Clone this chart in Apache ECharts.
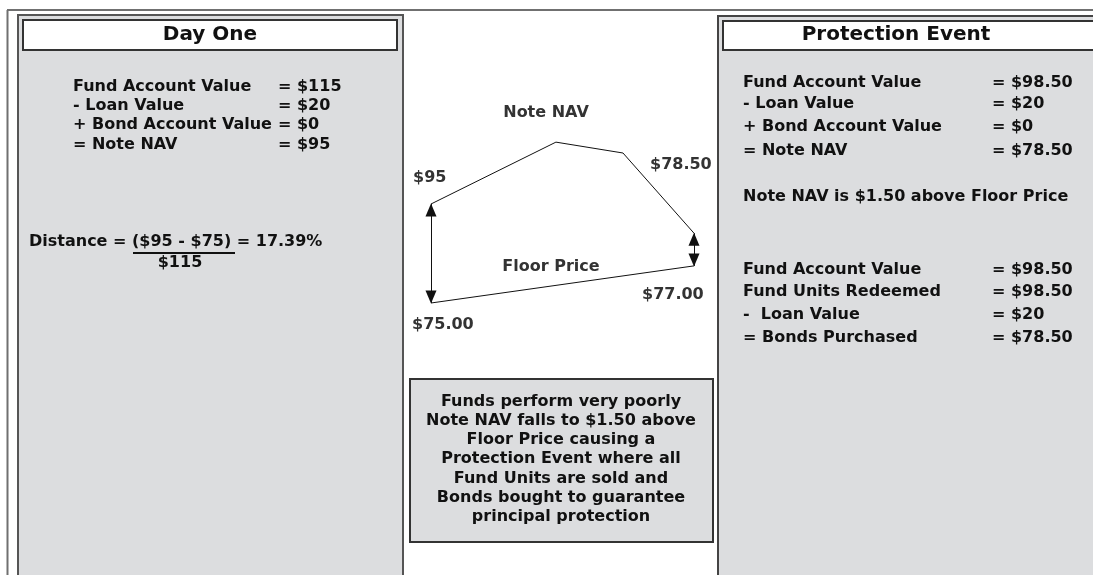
<!DOCTYPE html>
<html>
<head>
<meta charset="utf-8">
<script src="https://cdn.jsdelivr.net/npm/echarts@6/dist/echarts.min.js"></script>
<style>
  html, body { margin: 0; padding: 0; background: #fff; }
  #main { width: 1093px; height: 575px; }
</style>
</head>
<body>
<div id="main"></div>
<script>
// schematic diagram data (not drawn to scale in the source)
const navTimes = [0, 4.75, 7.3, 10]
const navLevels = [95, 107.5, 105.3, 89.1]
const floorTimes = [0, 10]
const floorLevels = [75, 82.5]

const dayOneRows = [
  ['Fund Account Value', '= $115'],
  ['- Loan Value', '= $20'],
  ['+ Bond Account Value', '= $0'],
  ['= Note NAV', '= $95']
]
const eventRows = [
  ['Fund Account Value', '= $98.50'],
  ['- Loan Value', '= $20'],
  ['+ Bond Account Value', '= $0'],
  ['= Note NAV', '= $78.50']
]
const redeemRows = [
  ['Fund Account Value', '= $98.50'],
  ['Fund Units Redeemed', '= $98.50'],
  ['-  Loan Value', '= $20'],
  ['= Bonds Purchased', '= $78.50']
]
const noteLines = [
  'Funds perform very poorly',
  'Note NAV falls to $1.50 above',
  'Floor Price causing a',
  'Protection Event where all',
  'Fund Units are sold and',
  'Bonds bought to guarantee',
  'principal protection'
]

const FONT = '"DejaVu Sans", Verdana, sans-serif'
const PANEL = '#dcdddf'

function txt(x, y, s, opt) {
  opt = opt || {}
  return {
    type: 'text', x: x, y: y, z: 10,
    style: {
      text: s,
      fontFamily: FONT,
      fontWeight: 'bold',
      fontSize: opt.size || 16,
      fill: opt.color || '#111',
      textAlign: opt.align || 'left',
      textVerticalAlign: 'middle'
    }
  }
}

function rows(list, x1, x2, ys) {
  const out = []
  list.forEach((r, i) => {
    out.push(txt(x1, ys[i], r[0]))
    out.push(txt(x2, ys[i], r[1]))
  })
  return out
}

const graphics = [
  // outer frame
  { type: 'line', shape: { x1: 7, y1: 10, x2: 1093, y2: 10 }, style: { stroke: '#707070', lineWidth: 2 } },
  { type: 'line', shape: { x1: 7.5, y1: 10, x2: 7.5, y2: 575 }, style: { stroke: '#707070', lineWidth: 2 } },
  // left panel
  { type: 'rect', shape: { x: 18, y: 15, width: 385, height: 570 }, style: { fill: PANEL, stroke: '#555', lineWidth: 2 } },
  { type: 'rect', shape: { x: 23, y: 20, width: 374, height: 30 }, style: { fill: '#fff', stroke: '#333', lineWidth: 2 } },
  txt(210, 35, 'Day One', { size: 20, align: 'center' }),
  // right panel
  { type: 'rect', shape: { x: 718, y: 16, width: 400, height: 570 }, style: { fill: PANEL, stroke: '#444', lineWidth: 2 } },
  { type: 'rect', shape: { x: 723, y: 21, width: 400, height: 29 }, style: { fill: '#fff', stroke: '#333', lineWidth: 2 } },
  txt(896, 35, 'Protection Event', { size: 20, align: 'center' }),
  // middle note box
  { type: 'rect', shape: { x: 410, y: 379, width: 303, height: 163 }, style: { fill: PANEL, stroke: '#333', lineWidth: 2 } },
  // distance formula underline
  { type: 'line', shape: { x1: 133, y1: 253, x2: 235, y2: 253 }, style: { stroke: '#111', lineWidth: 2 } }
]
  .concat(rows(dayOneRows, 73, 278, [87, 106, 125, 145]))
  .concat([
    txt(29, 242, 'Distance = ($95 - $75) = 17.39%'),
    txt(180, 263, '$115', { align: 'center' })
  ])
  .concat(rows(eventRows, 743, 992, [83, 104, 127, 151]))
  .concat([txt(743, 197, 'Note NAV is $1.50 above Floor Price')])
  .concat(rows(redeemRows, 743, 992, [270, 292, 315, 338]))
  .concat(noteLines.map((s, i) => txt(561, 402 + i * 19.1, s, { align: 'center' })))
  .concat([
    txt(546, 113, 'Note NAV', { color: '#333', align: 'center' }),
    txt(413, 178, '$95', { color: '#333' }),
    txt(650, 165, '$78.50', { color: '#333' }),
    txt(551, 267, 'Floor Price', { color: '#333', align: 'center' }),
    txt(642, 295, '$77.00', { color: '#333' }),
    txt(412, 325, '$75.00', { color: '#333' })
  ])

const chart = echarts.init(document.getElementById('main'))
chart.setOption({
  animation: false,
  grid: { left: 431, width: 263, top: 129.75, height: 198 },
  xAxis: { type: 'value', min: 0, max: 10, show: false },
  yAxis: { type: 'value', min: 70, max: 110, show: false },
  graphic: graphics,
  series: [
    {
      type: 'line',
      data: navTimes.map((t, i) => [t, navLevels[i]]),
      showSymbol: false,
      lineStyle: { color: '#111', width: 1 },
      silent: true,
      markLine: {
        silent: true,
        symbol: ['triangle', 'triangle'],
        symbolSize: [11, 13],
        symbolOffset: [[0, 6], [0, 6]],
        label: { show: false },
        lineStyle: { color: '#111', width: 1, type: 'solid' },
        data: [
          [{ coord: [navTimes[0], navLevels[0]] }, { coord: [floorTimes[0], floorLevels[0]] }],
          [{ coord: [navTimes[3], navLevels[3]] }, { coord: [floorTimes[1], floorLevels[1]] }]
        ]
      }
    },
    {
      type: 'line',
      data: floorTimes.map((t, i) => [t, floorLevels[i]]),
      showSymbol: false,
      lineStyle: { color: '#111', width: 1 },
      silent: true
    }
  ]
})
</script>
</body>
</html>
